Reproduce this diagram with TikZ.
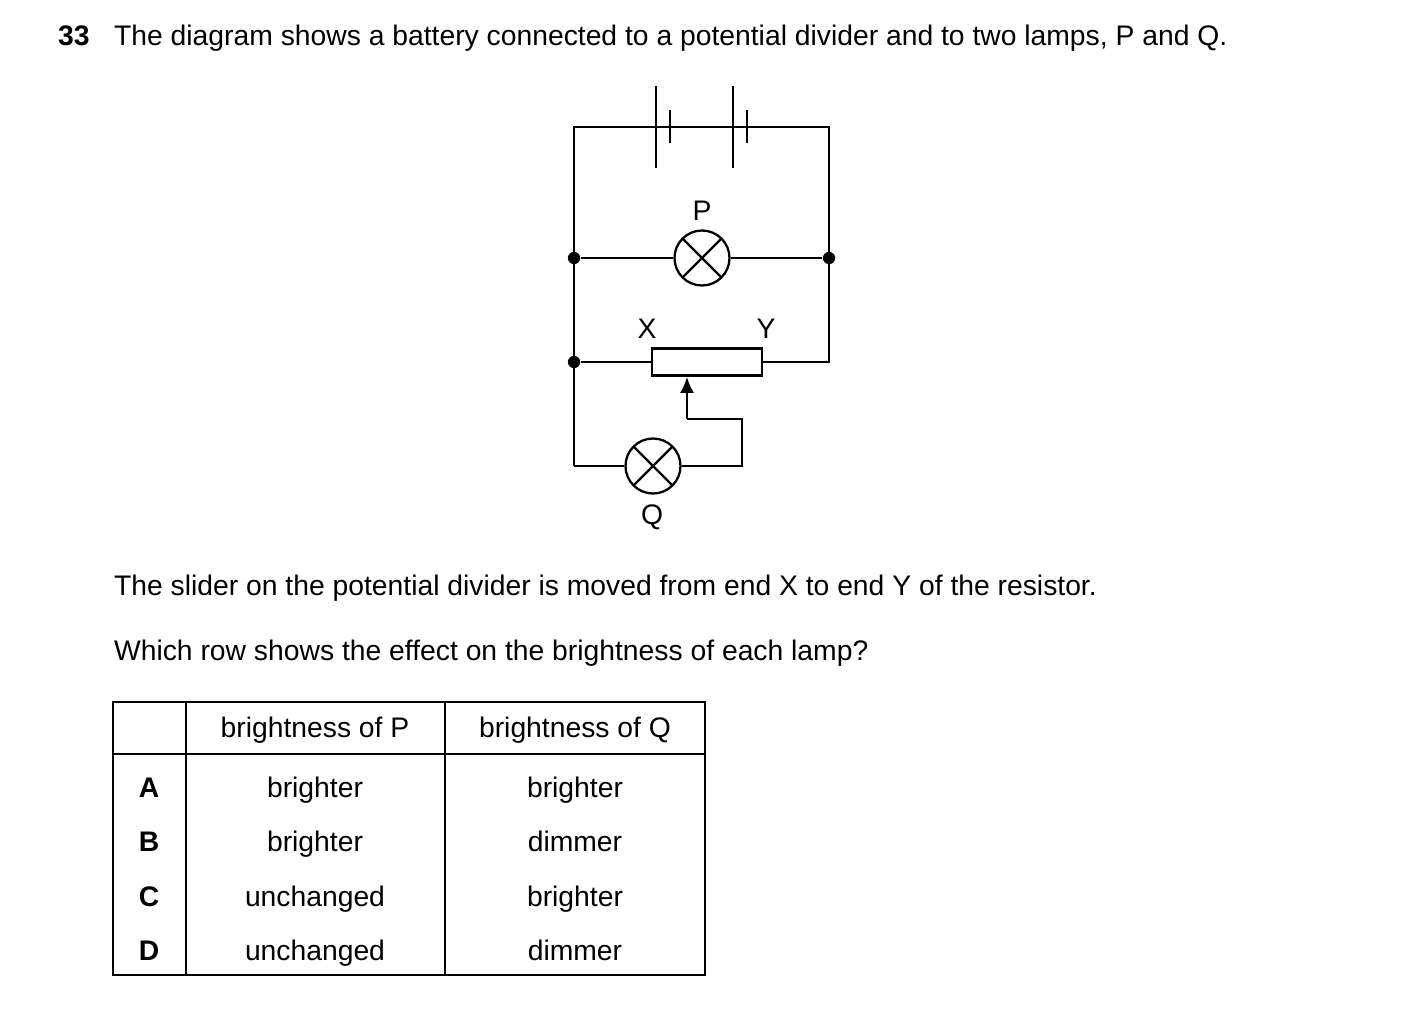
\documentclass[tikz,border=0pt]{standalone}
\usepackage{fontspec}
\setmainfont{Liberation Sans}
\usetikzlibrary{arrows.meta}
\begin{document}
\begin{tikzpicture}[x=0.02cm,y=-0.02cm,line width=1.3pt,
  lamp/.style={circle,draw,minimum size=1.1cm,inner sep=0pt,path picture={
    \draw (path picture bounding box.south west)--(path picture bounding box.north east)
          (path picture bounding box.north west)--(path picture bounding box.south east);}},
  dot/.style={circle,fill,inner sep=0pt,minimum size=7pt},
  txt/.style={font=\fontsize{16.1}{19}\selectfont,inner sep=0pt}]
\useasboundingbox (0,0) rectangle (1403,1021);
% question text
\node[txt,anchor=base west] (num) at (57,45) {\textbf{33}};
\node[txt,anchor=base west] (q) at (113,45) {The diagram shows a battery connected to a potential divider and to two lamps, P and Q.};
% battery
\coordinate (tl) at (574,127);
\coordinate (tr) at (829,127);
\draw (tl)--(656,127);
\draw (656,86)--(656,168);
\draw (670,110)--(670,143);
\foreach \x in {670,690,710}{\draw (\x,127)--(\x+10,127);}
\draw (733,86)--(733,168);
\draw (747,110)--(747,143);
\draw (747,127)--(tr);
% lamp P
\node[dot] (jl) at (574,258) {};
\node[dot] (jr) at (829,258) {};
\node[lamp] (P) at (702,258) {};
\node[txt] (lP) at (702,211) {P};
\draw (jl)--(P)--(jr);
% potential divider
\node[dot] (jd) at (574,362) {};
\node[draw,minimum width=2.2cm,minimum height=0.54cm,inner sep=0pt] (R) at (707,362) {};
\node[txt] (lX) at (647,329) {X};
\node[txt] (lY) at (766,329) {Y};
\coordinate (rb) at (829,362);
\draw (jd)--(R.west);
\draw (R.east)--(rb)--(tr)--(tl)--(574,466);
% slider and lamp Q
\node[lamp] (Q) at (653,466) {};
\node[txt] (lQ) at (652,517) {Q};
\coordinate (s1) at (687,419);
\coordinate (s2) at (742,419);
\coordinate (s3) at (742,466);
\coordinate (ql) at (574,466);
\draw[-{Latex[length=9pt,width=8pt]}] (s1)--(687,377);
\draw (s1)--(s2)--(s3)--(Q.east);
\draw (ql)--(Q.west);
% more text
\node[txt,anchor=base west] (t1) at (113,595) {The slider on the potential divider is moved from end X to end Y of the resistor.};
\node[txt,anchor=base west] (t2) at (113,660) {Which row shows the effect on the brightness of each lamp?};
% table
\draw[line width=0.8pt] (113,702) rectangle (705,975);
\draw[line width=0.8pt] (113,754)--(705,754);
\foreach \x in {186,445}{\draw[line width=0.8pt] (\x,702)--(\x,975);}
\node[txt,anchor=base] (h1) at (315,737) {brightness of P};
\node[txt,anchor=base] (h2) at (575,737) {brightness of Q};
\foreach \l/\p/\q/\y in {A/brighter/brighter/797,B/brighter/dimmer/851,C/unchanged/brighter/906,D/unchanged/dimmer/960}{
  \node[txt,anchor=base] at (149,\y) {\textbf{\l}};
  \node[txt,anchor=base] at (315,\y) {\p};
  \node[txt,anchor=base] at (575,\y) {\q};
}
\end{tikzpicture}
\end{document}
